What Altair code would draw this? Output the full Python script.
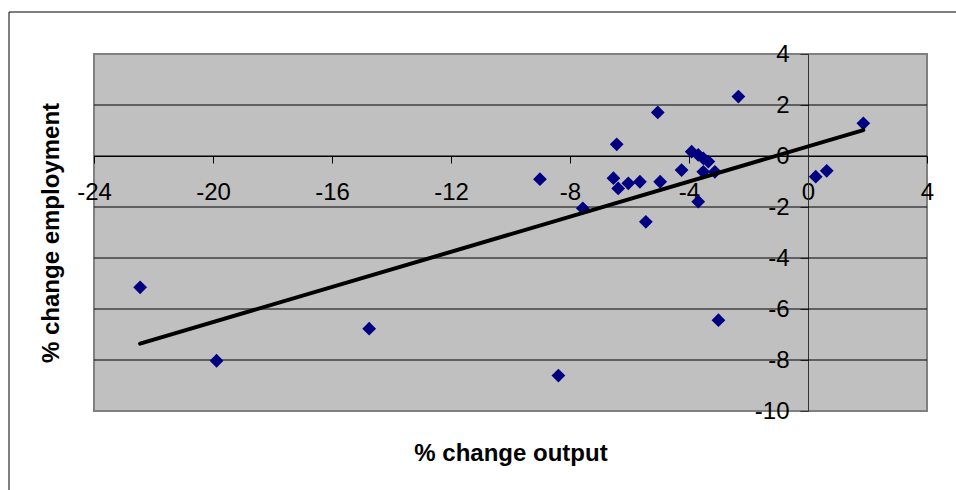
import altair as alt
import pandas as pd

# Percentage change in output (x) and employment (y), one entry per unit
output_change = [-22.45, -19.88, -14.75, -9.01, -8.39, -7.57, -6.54, -6.38,
                 -6.43, -6.04, -5.65, -5.45, -5.05, -4.97, -4.25, -3.91,
                 -3.69, -3.52, -3.35, -3.52, -3.13, -3.69, -3.01, -2.34,
                 0.26, 0.63, 1.86]
employment_change = [-5.15, -8.03, -6.77, -0.91, -8.61, -2.05, -0.87, -1.27,
                     0.46, -1.07, -1.01, -2.58, 1.71, -1.01, -0.55, 0.17,
                     0.04, -0.09, -0.22, -0.62, -0.62, -1.79, -6.44, 2.33,
                     -0.81, -0.58, 1.28]

x_ticks = [-24, -20, -16, -12, -8, -4, 0, 4]
y_ticks = [-10, -8, -6, -4, -2, 0, 2, 4]
grid_levels = [-8, -6, -4, -2, 0, 2]

X_DOMAIN = [-24, 4]
Y_DOMAIN = [-10, 4]
W, H = 833, 357

# pixel offsets of the zero lines, where the two axes cross
x_zero_px = W * (0 - X_DOMAIN[0]) / (X_DOMAIN[1] - X_DOMAIN[0])
y_zero_px = H * (Y_DOMAIN[1] - 0) / (Y_DOMAIN[1] - Y_DOMAIN[0])

points = pd.DataFrame({"out": output_change, "emp": employment_change})
grid = pd.DataFrame({"emp": grid_levels})

FONT = "Liberation Sans"
PLAIN_LABEL = "toString(datum.value)"

x_axis = alt.Axis(
    values=x_ticks, orient="bottom", offset=-(H - y_zero_px), labelExpr=PLAIN_LABEL,
    tickSize=7, labelPadding=17, labelFlush=False, labelOverlap=False,
    domainColor="#000000", tickColor="#000000",
    title="% change output", titleX=W / 2, titleY=304,
    titleAlign="center", titleBaseline="alphabetic",
)
y_axis = alt.Axis(
    values=y_ticks, orient="left", offset=-x_zero_px, labelExpr=PLAIN_LABEL,
    tickSize=8, labelPadding=11, labelFlush=False, labelOverlap=False,
    domainColor="#333333", tickColor="#333333",
    title="% change employment", titleAngle=270, titleX=-750, titleY=H / 2,
    titleAlign="center", titleBaseline="alphabetic",
)

x_enc = alt.X("out:Q", scale=alt.Scale(domain=X_DOMAIN, nice=False, zero=False), axis=x_axis)
y_enc = alt.Y("emp:Q", scale=alt.Scale(domain=Y_DOMAIN, nice=False, zero=False), axis=y_axis)

gridlines = alt.Chart(grid).mark_rule(color="#000000", strokeWidth=1).encode(y=y_enc)

dots = alt.Chart(points).mark_point(
    shape="diamond", filled=True, size=190, color="#000080", opacity=1
).encode(x=x_enc, y=y_enc)

trend = alt.Chart(points).transform_regression("out", "emp").mark_line(
    color="#000000", strokeWidth=4, strokeCap="round"
).encode(x=x_enc, y=y_enc)

# thin outer frame around the figure: its left and top edges
single = alt.Data(values=[{}])
frame_left = alt.Chart(single).mark_rule(color="#000000", strokeWidth=1).encode(
    x=alt.value(-85), y=alt.value(-42), y2=alt.value(500)
)
frame_top = alt.Chart(single).mark_rule(color="#000000", strokeWidth=1).encode(
    x=alt.value(-85), x2=alt.value(1000), y=alt.value(-42)
)

chart = alt.layer(frame_left, frame_top, gridlines, dots, trend).properties(
    width=W, height=H,
    autosize="none",
    padding={"left": 94, "top": 54, "right": 29, "bottom": 79},
    background="#ffffff",
).configure_view(
    fill="#C0C0C0", stroke="#808080", strokeWidth=2
).configure_axis(
    grid=False, labelFont=FONT, labelFontSize=24, labelColor="#000000",
    titleFont=FONT, titleFontSize=24, titleFontWeight="bold", titleColor="#000000",
    zindex=1,
)

chart.save("out.html", embed_options={"renderer": "svg", "actions": False})
